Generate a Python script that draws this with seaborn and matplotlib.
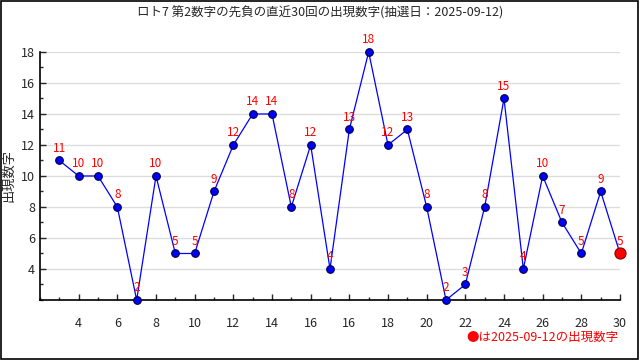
import numpy as np
import pandas as pd
import seaborn as sns
import matplotlib.pyplot as plt
from matplotlib.patches import Rectangle
from matplotlib.ticker import MultipleLocator

# 直近30回の出現数字
kaisu = list(range(1, 31))
suji = [11, 10, 10, 8, 2, 10, 5, 5, 9, 12, 14, 14, 8, 12, 4,
        13, 18, 12, 13, 8, 2, 3, 8, 15, 4, 10, 7, 5, 9, 5]
x_tick_pos = list(range(2, 31, 2))
x_tick_labels = ["4", "6", "8", "10", "12", "14", "16", "16",
                 "18", "20", "22", "24", "26", "28", "30"]
title = "ロト7 第2数字の先負の直近30回の出現数字(抽選日：2025-09-12)"
legend_text = "●は2025-09-12の出現数字"

df = pd.DataFrame({"kaisu": kaisu, "suji": suji})

sns.set_style("ticks")
plt.rcParams['font.family'] = ['Noto Sans CJK JP', 'DejaVu Sans']

fig = plt.figure(figsize=(6.4, 3.6), dpi=100)
ax = fig.add_axes([0.0625, 0.1667, 0.90625, 0.6889])

ax.yaxis.grid(True, color="#dddddd", linewidth=1)
ax.set_axisbelow(True)

sns.lineplot(data=df, x="kaisu", y="suji", ax=ax, color="blue", linewidth=0.9,
             marker="o", markersize=5.5, markerfacecolor="blue",
             markeredgecolor="#000044", markeredgewidth=0.8, zorder=3,
             clip_on=False)

# 最新回は赤
ax.plot(kaisu[-1], suji[-1], "o", color="red", markersize=8,
        markeredgecolor="#880000", markeredgewidth=0.8, zorder=4, clip_on=False)

for xv, yv in zip(kaisu, suji):
    ax.annotate(str(yv), (xv, yv), xytext=(0, 4), textcoords="offset points",
                ha="center", va="bottom", color="red", fontsize=8.5, zorder=5,
                annotation_clip=False)

ax.set_xlim(0, 30)
ax.set_ylim(2, 18)
ax.set_xticks(x_tick_pos)
ax.set_xticklabels(x_tick_labels)
ax.xaxis.set_minor_locator(MultipleLocator(1))
ax.set_yticks(range(4, 19, 2))
ax.yaxis.set_minor_locator(MultipleLocator(1))
ax.tick_params(axis="both", which="major", labelsize=9, length=4, width=1)
ax.tick_params(axis="both", which="minor", length=2.5, width=1)
ax.tick_params(axis="x", which="both", direction="in", pad=12)
ax.tick_params(axis="y", which="both", direction="in")
ax.set_xlabel("")
ax.set_ylabel("出現数字", fontsize=9.5, labelpad=4)
sns.despine(ax=ax)
for s in ["left", "bottom"]:
    ax.spines[s].set_linewidth(1.2)
    ax.spines[s].set_color("black")

fig.text(0.5, 0.965, title, ha="center", va="center", fontsize=9)
fig.text(0.966, 0.064, legend_text, ha="right", va="center", color="red", fontsize=9)

fig.patches.append(Rectangle((0.002, 0.003), 0.995, 0.994, transform=fig.transFigure,
                             fill=False, edgecolor="black", linewidth=1.2))

fig.savefig("out.png", dpi=100)
plt.close(fig)
